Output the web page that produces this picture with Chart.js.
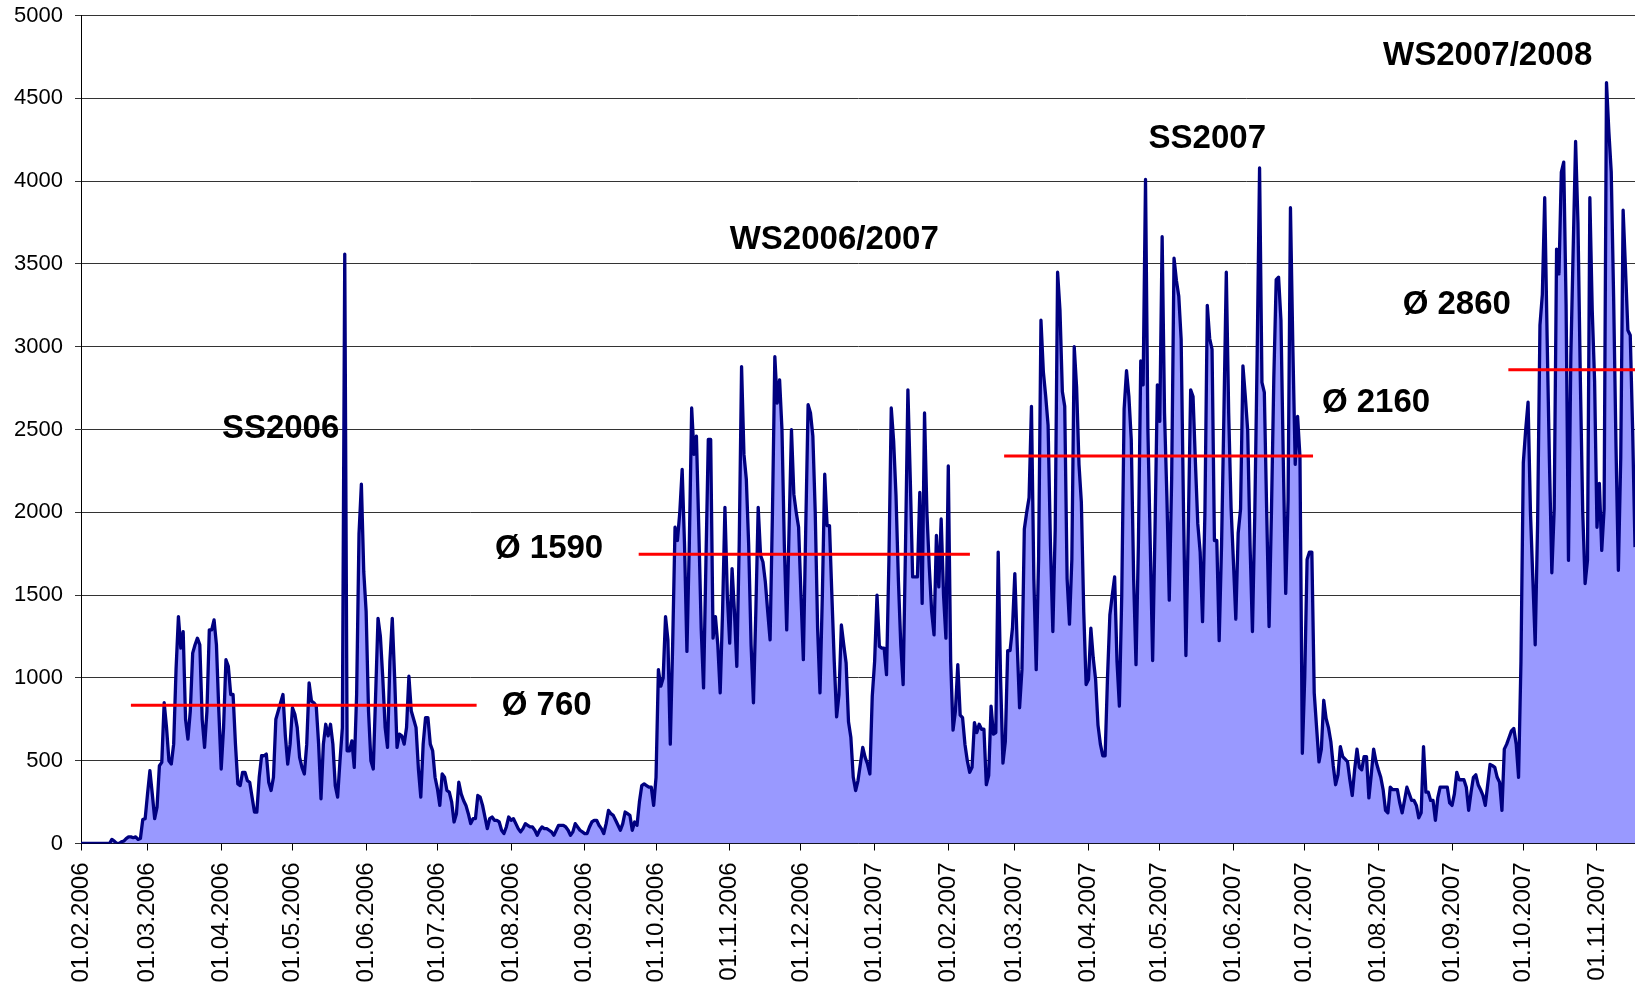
<!DOCTYPE html>
<html>
<head>
<meta charset="utf-8">
<style>
html,body{margin:0;padding:0;background:#ffffff;}
#wrap{width:1635px;height:983px;}
</style>
<script src="https://cdn.jsdelivr.net/npm/chart.js@4.4.1/dist/chart.umd.min.js"></script>
</head>
<body>
<div id="wrap"><canvas id="c" width="1635" height="983"></canvas></div>
<script>
// ---- DATA (daily values, first day = 01.02.2006) ----
const startDate = '01.02.2006';
const feb2006 = [0,0,0,0,0,0,0,0,0,0,0,0,0,25,15,0,0,10,15,30,40,40,35,40,25,30,145,150];
const mar2006 = [300,440,300,150,220,470,490,850,700,500,480,600,1050,1370,1180,1280,750,630,800,1150,1200,1240,1200,750,580,800,1290,1290,1350,1200,800];
const apr2006 = [450,700,1110,1070,900,900,600,360,350,430,430,380,370,280,190,190,400,530,530,540,370,320,400,750,800,850,900,650,480,600];
const may2006 = [820,780,700,520,460,420,600,970,860,850,830,600,270,600,720,650,720,600,350,280,500,700,3560,560,560,620,460,900,1870,2170,1640];
const jun2006 = [1400,800,500,450,900,1360,1250,1000,700,580,1100,1360,1000,580,660,650,600,700,1010,800,750,700,450,280,600,760,760,600,560,400];
const jul2006 = [330,230,420,400,320,310,250,130,180,370,300,260,230,180,120,150,150,290,280,230,160,90,150,160,140,140,130,80,60,100,160];
const aug2006 = [140,150,120,90,70,90,120,110,100,100,80,50,80,100,90,90,80,70,50,80,110,110,110,100,80,50,70,120,100,80,70];
const sep2006 = [60,60,100,130,140,140,110,90,60,120,200,180,170,140,110,80,120,190,180,170,80,130,110,250,350,360,350,340,340,230];
const oct2006 = [400,1050,950,1000,1370,1230,600,1200,1910,1830,2000,2260,1800,1160,1800,2630,2350,2460,1900,1300,940,1700,2440,2440,1240,1370,1200,910,1400,2030,1500];
const nov2006 = [1210,1660,1400,1070,1800,2880,2350,2200,1800,1200,850,1400,2030,1740,1700,1580,1400,1230,2000,2940,2660,2800,2500,1800,1290,1900,2500,2110,2000,1910];
const dec2006 = [1500,1110,1900,2650,2600,2460,2000,1300,910,1500,2230,1920,1920,1500,1100,765,900,1320,1200,1090,735,640,400,320,380,480,580,520,480,420,890];
const jan2007 = [1100,1500,1190,1180,1180,1020,1700,2630,2430,2100,1590,1200,960,1800,2740,2200,1610,1610,1610,2120,1450,2600,2000,1670,1400,1260,1860,1550,1960,1500,1240];
const feb2007 = [2280,1100,685,800,1080,775,760,600,500,430,460,730,670,720,690,690,355,410,830,660,670,1760,1000,485,615,1165,1165,1300];
const mar2007 = [1630,1200,820,1050,1900,2000,2090,2640,1600,1050,1715,3160,2850,2700,2525,1800,1280,1900,3450,3220,2730,2640,1600,1325,1715,3000,2755,2290,2060,1400,960];
const apr2007 = [990,1300,1120,990,715,600,530,530,1000,1380,1500,1610,1100,830,1500,2625,2855,2700,2440,1600,1080,1800,2915,2770,4010,2500,1800,1105,1900,2770];
const may2007 = [2550,3665,2600,2090,1470,2200,3535,3400,3305,3045,2000,1135,1900,2740,2700,2300,1930,1760,1340,2000,3250,3050,2985,1830,1830,1225,1800,2600,3450,2600,2030];
const jun2007 = [1700,1355,1875,2020,2885,2700,2495,1800,1280,2000,2960,4080,2785,2725,2000,1310,2000,2815,3405,3420,3160,2300,1510,2075,3840,3000,2290,2580,2335,545];
const jul2007 = [1000,1715,1760,1760,910,700,493,570,865,755,700,615,470,355,415,585,525,510,495,385,290,445,570,460,445,525,525,275,415,570,495];
const aug2007 = [445,400,325,200,185,340,325,325,325,245,185,260,340,300,260,260,230,155,185,585,310,310,260,260,140,275,340,340,340,340,245];
const sep2007 = [230,300,430,385,385,385,340,200,310,400,415,355,325,290,230,355,478,470,460,400,370,200,570,600,640,680,695,600,400,1095];
const oct2007 = [2300,2500,2665,2000,1600,1200,1925,3130,3315,3900,3070,2300,1635,2020,3590,3440,4055,4115,3250,1710,2945,3600,4240,3745,2800,2000,1570,1710,3900,3220,2790];
const nov2007 = [1910,2175,1770,2020,4595,4300,4055,3300,2400,1650,2330,3825,3470,3100,3070,2500,1790];

const tickLabels = ['01.02.2006','01.03.2006','01.04.2006','01.05.2006','01.06.2006','01.07.2006','01.08.2006','01.09.2006','01.10.2006','01.11.2006','01.12.2006','01.01.2007','01.02.2007','01.03.2007','01.04.2007','01.05.2007','01.06.2007','01.07.2007','01.08.2007','01.09.2007','01.10.2007','01.11.2007'];
const yTicks = [0,500,1000,1500,2000,2500,3000,3500,4000,4500,5000];

// semester averages: level and span (in days since 01.02.2006)
const avgLevel = [835, 1747, 2340, 2861];
const avgStart = [21, 234.7, 388.5, 600.7];
const avgEnd   = [166.5, 374.1, 518.5, 654];

const noteTexts = ['SS2006','WS2006/2007','SS2007','WS2007/2008','\u00D8 760','\u00D8 1590','\u00D8 2160','\u00D8 2860'];
// ---- END DATA ----

const noteAnchors = [[84,2502],[317,3644],[474,4254],[592,4757],[196,828],[197,1778],[545,2662],[579,3253]];

function dayIndex(s){
  const p = s.split('.').map(Number);
  const b = startDate.split('.').map(Number);
  return Math.round((Date.UTC(p[2],p[1]-1,p[0]) - Date.UTC(b[2],b[1]-1,b[0]))/86400000);
}
const daily = [].concat(feb2006,mar2006,apr2006,may2006,jun2006,jul2006,aug2006,sep2006,oct2006,nov2006,dec2006,
                        jan2007,feb2007,mar2007,apr2007,may2007,jun2007,jul2007,aug2007,sep2007,oct2007,nov2007);
const tickDays = tickLabels.map(dayIndex);
const lastDay = daily.length - 1;

const FONT = '"Liberation Sans", Arial, Helvetica, sans-serif';
Chart.defaults.font.family = FONT;
Chart.defaults.color = '#000';

const datasets = [{
  data: daily.map((v,i)=>({x:i,y:v})),
  borderColor:'#000080', borderWidth:3.3, backgroundColor:'#9999FF',
  fill:'origin', pointRadius:0, tension:0, order:2, borderJoinStyle:'round'
}];
avgLevel.forEach((lv,k)=>{
  datasets.push({
    data:[{x:avgStart[k],y:lv},{x:avgEnd[k],y:lv}],
    borderColor:'#FF0000', borderWidth:3, pointRadius:0, fill:false, order:0
  });
});

const notesPlugin = {
  id:'notes',
  afterDatasetsDraw(chart){
    const ctx = chart.ctx, xs = chart.scales.x, ys = chart.scales.y;
    ctx.save();
    ctx.font = 'bold 33px ' + FONT;
    ctx.fillStyle = '#000';
    ctx.textAlign = 'center';
    ctx.textBaseline = 'middle';
    noteTexts.forEach((t,i)=>{
      ctx.fillText(t, xs.getPixelForValue(noteAnchors[i][0]), ys.getPixelForValue(noteAnchors[i][1]));
    });
    ctx.restore();
  }
};

new Chart(document.getElementById('c'), {
  type:'line',
  data:{datasets},
  plugins:[notesPlugin],
  options:{
    responsive:false, animation:false, devicePixelRatio:1, parsing:false, normalized:true,
    layout:{padding:{top:15.6,right:0,left:0,bottom:0}},
    plugins:{legend:{display:false}, tooltip:{enabled:false}},
    scales:{
      x:{
        type:'linear', min:0, max:lastDay,
        afterBuildTicks:(s)=>{ s.ticks = tickDays.map(v=>({value:v})); },
        afterFit:(s)=>{ s.height = 139.5; s.paddingLeft = 0; s.paddingRight = 0; },
        ticks:{ autoSkip:false, minRotation:90, maxRotation:90, padding:12, color:'#000',
                font:{size:24, family:FONT},
                callback:(v)=>{ const k = tickDays.indexOf(v); return k>=0 ? tickLabels[k] : ''; } },
        grid:{ drawOnChartArea:false, drawTicks:true, tickLength:7, color:'#000', lineWidth:1 },
        border:{ display:true, color:'#000', width:1 }
      },
      y:{
        min:0, max:5000,
        afterBuildTicks:(s)=>{ s.ticks = yTicks.map(v=>({value:v})); },
        afterFit:(s)=>{ s.width = 81; s.paddingTop = 0; s.paddingBottom = 0; },
        ticks:{ padding:12, color:'#000', font:{size:22, family:FONT}, callback:(v)=>String(v) },
        grid:{ color:'#333333', lineWidth:1, tickLength:6, drawTicks:true },
        border:{ display:true, color:'#000', width:1 }
      }
    }
  }
});
</script>
</body>
</html>
